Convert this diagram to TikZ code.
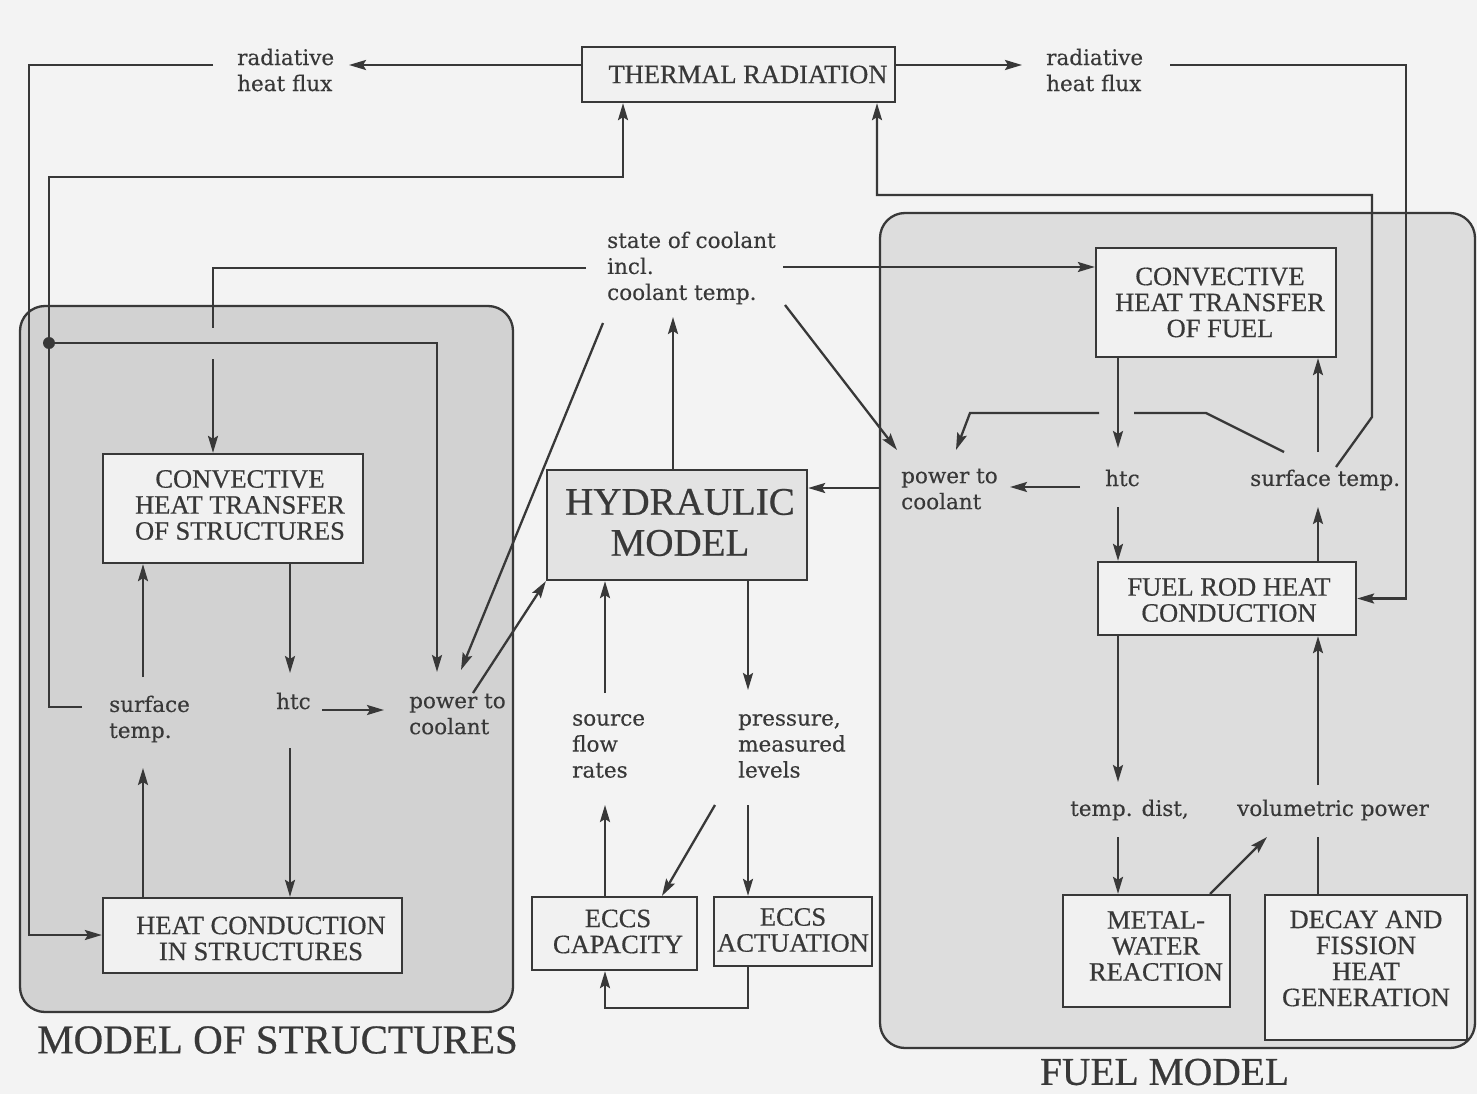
\documentclass[tikz,border=0pt]{standalone}
\usepackage{fontspec}
\setmainfont[FakeBold=0.5]{Liberation Serif}
\newfontfamily\lblf[FakeBold=0.3]{DejaVu Serif}
\usetikzlibrary{arrows.meta}
\definecolor{bgc}{HTML}{F3F3F3}
\definecolor{panelL}{HTML}{D2D2D2}
\definecolor{panelR}{HTML}{DDDDDD}
\definecolor{boxw}{HTML}{F1F1F1}
\definecolor{hydg}{HTML}{E3E3E3}
\definecolor{ink}{HTML}{383838}
\begin{document}
\begin{tikzpicture}[x=1pt,y=-1pt,
  ln/.style={draw=ink, line width=2.3pt},
  arr/.style={ln, -{Stealth[length=17pt,width=10pt,inset=3pt]}},
  bx/.style={draw=ink, line width=2.3pt, fill=boxw, inner sep=0pt},
  bxt/.style={inner sep=0pt, align=center, text=ink, font=\fontsize{26.5}{26}\selectfont},
  lbl/.style={inner sep=0pt, align=left, anchor=west, text=ink, font=\lblf\fontsize{21.5}{26}\selectfont},
  ttl/.style={inner sep=0pt, text=ink, font=\fontsize{41}{42}\selectfont},
  panel/.style={draw=ink, line width=2.3pt, rounded corners=25pt, inner sep=0pt}]
\fill[bgc] (0,0) rectangle (1477,1094);
\useasboundingbox (0,0) rectangle (1477,1094);

% panels
\node[panel, fill=panelL, minimum width=493pt, minimum height=706pt] (strpanel) at (266.5,659) {};
\node[panel, fill=panelR, minimum width=595pt, minimum height=835pt] (fuelpanel) at (1177.5,630.5) {};

% boxes
\node[bx, minimum width=313pt, minimum height=55pt] (thermal) at (738.5,74.5) {};
\node[bxt, xshift=9.5pt] (thermalT) at (thermal.center) {THERMAL RADIATION};
\node[bx, minimum width=260pt, minimum height=109pt] (cstr) at (233,508.5) {};
\node[bxt, xshift=7pt, yshift=3.5pt] (cstrT) at (cstr.center) {CONVECTIVE\\HEAT TRANSFER\\OF STRUCTURES};
\node[bx, minimum width=299pt, minimum height=75pt] (hstr) at (252.5,935.5) {};
\node[bxt, xshift=8.5pt, yshift=-3pt] (hstrT) at (hstr.center) {HEAT CONDUCTION\\IN STRUCTURES};
\node[bx, fill=hydg, minimum width=260pt, minimum height=110pt] (hyd) at (677,525) {};
\node[bxt, font=\fontsize{39}{41}\selectfont, xshift=3pt, yshift=2.5pt] (hydT) at (hyd.center) {HYDRAULIC\\MODEL};
\node[bx, minimum width=165pt, minimum height=73pt] (cap) at (614.5,933.5) {};
\node[bxt, xshift=3.5pt, yshift=2pt] (capT) at (cap.center) {ECCS\\CAPACITY};
\node[bx, minimum width=158pt, minimum height=69pt] (act) at (793,931.5) {};
\node[bxt, yshift=1.5pt] (actT) at (act.center) {ECCS\\ACTUATION};
\node[bx, minimum width=240pt, minimum height=109pt] (cfuel) at (1216,302.5) {};
\node[bxt, xshift=4pt] (cfuelT) at (cfuel.center) {CONVECTIVE\\HEAT TRANSFER\\OF FUEL};
\node[bx, minimum width=258pt, minimum height=73pt] (frod) at (1227,598.5) {};
\node[bxt, xshift=2pt, yshift=-1.5pt] (frodT) at (frod.center) {FUEL ROD HEAT\\CONDUCTION};
\node[bx, minimum width=167pt, minimum height=112pt] (mw) at (1146.5,951) {};
\node[bxt, xshift=9.5pt, yshift=5pt] (mwT) at (mw.center) {METAL-\\WATER\\REACTION};
\node[bx, minimum width=202pt, minimum height=145pt] (decay) at (1366,967.5) {};
\node[bxt, yshift=9pt] (decayT) at (decay.center) {DECAY AND\\FISSION\\HEAT\\GENERATION};

% labels
\node[lbl] (radL) at (237,70) {radiative\\heat flux};
\node[lbl] (radR) at (1046,70) {radiative\\heat flux};
\node[lbl] (socl) at (607,268) {state of coolant\\incl.\\coolant temp.};
\node[lbl] (stL) at (109,719) {surface\\temp.};
\node[lbl] (htcL) at (276,701) {htc};
\node[lbl] (pcL) at (409,714) {power to\\coolant};
\node[lbl] (src) at (572,746) {source\\flow\\rates};
\node[lbl] (prs) at (738,746) {pressure,\\measured\\levels};
\node[lbl] (pcR) at (901,489) {power to\\coolant};
\node[lbl] (htcR) at (1105,478) {htc};
\node[lbl] (stR) at (1250,480) {surface temp.};
\node[lbl] (tdist) at (1070,810) {temp. dist,};
\node[lbl] (vpow) at (1237,810) {volumetric power};

% titles
\node[ttl] (msT) at (277.5,1040) {MODEL OF STRUCTURES};
\node[ttl, font=\fontsize{39.5}{40}\selectfont] (fmT) at (1164.5,1072) {FUEL MODEL};

% top connectors
\coordinate (rlTip) at (349,65);
\draw[arr] (thermal.west |- rlTip) -- (rlTip);
\coordinate (rrTip) at (1022,65);
\draw[arr] (thermal.east |- rrTip) -- (rrTip);
\coordinate (radLout) at (213,65);
\coordinate (lftB) at (29,935);
\draw[arr] (radLout) -| (lftB) -- (hstr.west |- lftB);
\coordinate (radRout) at (1170,65);
\coordinate (rgtB) at (1406,598.5);
\draw[arr] (radRout) -| (rgtB) -- (frod.east);
\coordinate (stLout) at (82,707);
\coordinate (stLup) at (49,177);
\draw[arr] (stLout) -| (stLup) -| (thermal.south -| 623,0);
\coordinate (dotL) at (49,343);
\fill[ink] (dotL) circle (6pt);
\coordinate (pcLin) at (437,672);
\draw[arr] (dotL) -| (pcLin);

% state of coolant
\coordinate (soclW) at (586,268);
\coordinate (hopA) at (213,328);
\coordinate (hopB) at (213,359);
\draw[ln] (soclW) -| (hopA);
\draw[arr] (hopB) -- (cstr.north -| hopB);
\coordinate (soclE) at (783,267);
\draw[arr] (soclE) -- (cfuel.west |- soclE);
\coordinate (soclSW) at (603,323);
\coordinate (pcLin2) at (461,670);
\draw[arr] (soclSW) -- (pcLin2);
\coordinate (soclS) at (673,317);
\draw[arr] (hyd.north -| soclS) -- (soclS);
\coordinate (soclSE) at (785,305);
\coordinate (pcRin) at (897,450);
\draw[arr] (soclSE) -- (pcRin);

% hydraulic
\draw[arr] (fuelpanel.west |- 0,488) -- (hyd.east |- 0,488);
\coordinate (pcLout) at (473,693);
\draw[arr] (pcLout) -- (hyd.south west);
\coordinate (srcTop) at (605,693);
\draw[arr] (srcTop) -- (hyd.south -| srcTop);
\coordinate (prTop) at (748,690);
\draw[arr] (hyd.south -| prTop) -- (prTop);
\coordinate (srcBot) at (605,805);
\draw[arr] (cap.north -| srcBot) -- (srcBot);
\coordinate (prBotL) at (715,805);
\coordinate (capIn) at (662,897);
\draw[arr] (prBotL) -- (cap.north -| capIn);
\coordinate (prBot) at (748,805);
\draw[arr] (prBot) -- (act.north -| prBot);
\coordinate (retY) at (748,1008);
\draw[arr] (act.south -| retY) -- (retY) -| (cap.south -| srcBot);

% model of structures
\coordinate (htcLtop) at (290,673);
\draw[arr] (cstr.south -| htcLtop) -- (htcLtop);
\coordinate (stLtop) at (143,677);
\draw[arr] (stLtop) -- (cstr.south -| stLtop);
\coordinate (htcLr) at (322,710);
\coordinate (pcLl) at (384,710);
\draw[arr] (htcLr) -- (pcLl);
\coordinate (htcLbot) at (290,748);
\draw[arr] (htcLbot) -- (hstr.north -| htcLbot);
\coordinate (stLbot) at (143,768);
\draw[arr] (hstr.north -| stLbot) -- (stLbot);

% fuel model
\coordinate (stRout) at (1336,467);
\coordinate (stRk) at (1372,417);
\coordinate (stRtop) at (1372,195);
\draw[arr] (stRout) -- (stRk) -- (stRtop) -| (thermal.south -| 877,0);
\coordinate (htcRtop) at (1118,448);
\draw[arr] (cfuel.south -| htcRtop) -- (htcRtop);
\coordinate (stRa) at (1284,452);
\coordinate (stRb) at (1206,413);
\coordinate (hopC) at (1134,413);
\coordinate (hopD) at (1099,413);
\coordinate (pcRk) at (970,413);
\coordinate (pcRtip) at (956,450);
\draw[ln] (stRa) -- (stRb) -- (hopC);
\draw[arr] (hopD) -- (pcRk) -- (pcRtip);
\coordinate (stRup) at (1318,452);
\draw[arr] (stRup) -- (cfuel.south -| stRup);
\coordinate (htcRl) at (1080,487);
\coordinate (pcRr) at (1010,487);
\draw[arr] (htcRl) -- (pcRr);
\coordinate (htcRbot) at (1118,507);
\draw[arr] (htcRbot) -- (frod.north -| htcRbot);
\coordinate (stRbot) at (1318,507);
\draw[arr] (frod.north -| stRbot) -- (stRbot);
\coordinate (tdTop) at (1118,782);
\draw[arr] (frod.south -| tdTop) -- (tdTop);
\coordinate (vpBot) at (1318,785);
\draw[arr] (vpBot) -- (frod.south -| vpBot);
\coordinate (tdBot) at (1118,837);
\draw[arr] (tdBot) -- (mw.north -| tdBot);
\coordinate (mwOut) at (1210,895);
\coordinate (vpIn) at (1267,837);
\draw[arr] (mw.north -| mwOut) -- (vpIn);
\coordinate (vpBot2) at (1318,837);
\draw[ln] (decay.north -| vpBot2) -- (vpBot2);
\end{tikzpicture}
\end{document}
